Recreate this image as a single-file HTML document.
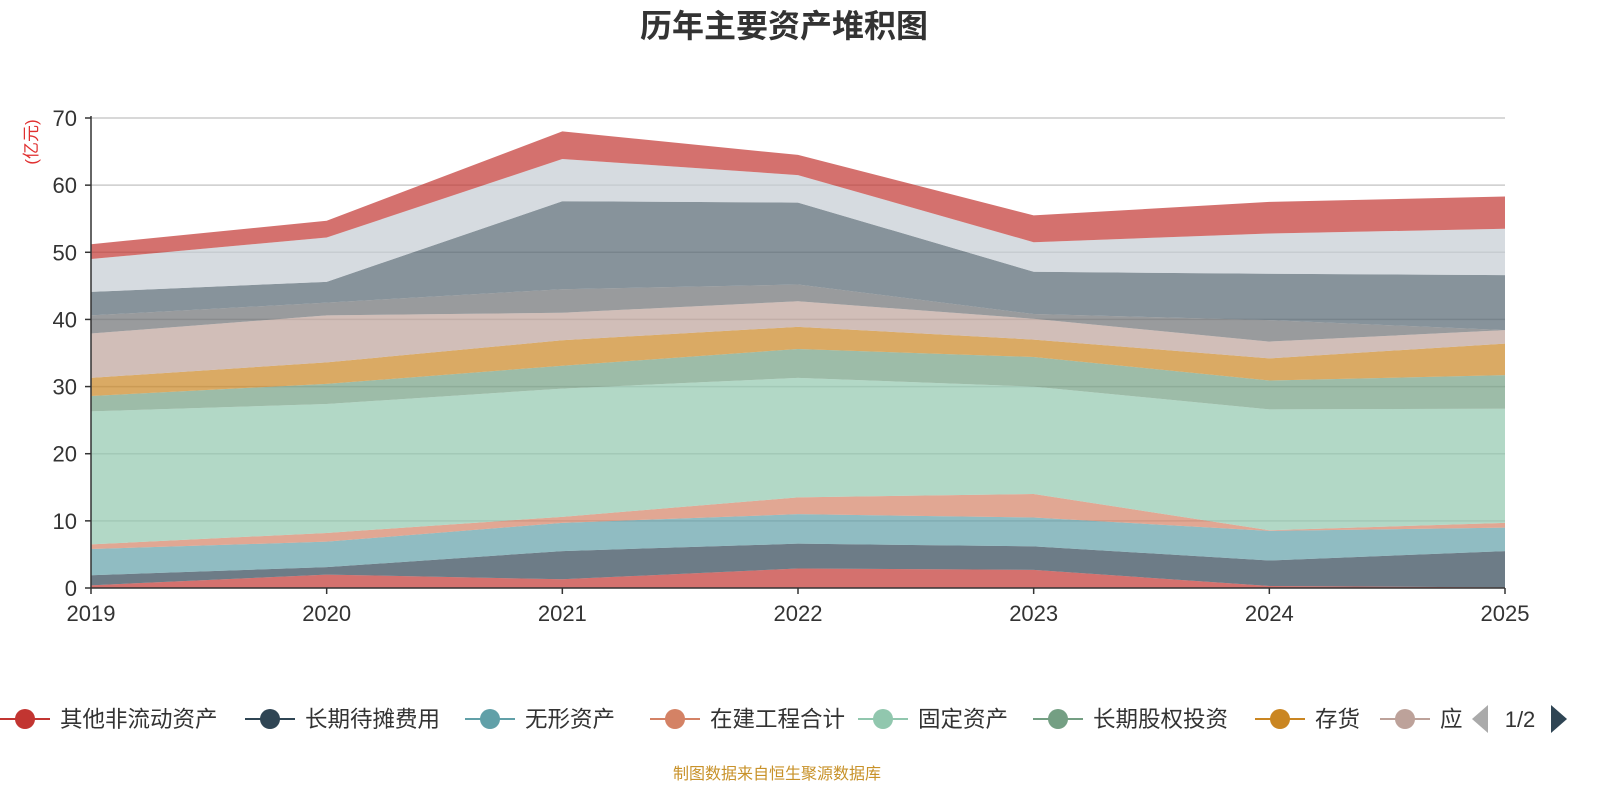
<!DOCTYPE html>
<html><head><meta charset="utf-8">
<style>
body{margin:0;background:#fff;}
svg text{font-family:"Liberation Sans","Noto Sans CJK SC",sans-serif;}
</style></head>
<body>
<svg id="chart" width="1600" height="800" viewBox="0 0 1600 800" xmlns="http://www.w3.org/2000/svg">
<text x="784" y="37" text-anchor="middle" font-size="32" font-weight="bold" fill="#333">历年主要资产堆积图</text>
<text transform="translate(37,142) rotate(-90)" text-anchor="middle" font-size="17" fill="#e03030">(亿元)</text>
<g id="grid"></g>
<g id="areas"></g>
<g id="axes"></g>
<g id="legend"></g>
<text x="777" y="779" text-anchor="middle" font-size="16" fill="#c8922a">制图数据来自恒生聚源数据库</text>
</svg>
<script>
const years = ['2019','2020','2021','2022','2023','2024','2025'];
const yTicks = [0,10,20,30,40,50,60,70];
const seriesNames = ['其他非流动资产','长期待摊费用','无形资产','在建工程合计','固定资产','长期股权投资','存货','应收账款','其他应收款','交易性金融资产','预付款项','货币资金'];
const seriesColors = ['#c23531','#2f4554','#61a0a8','#d48265','#91c7ae','#749f83','#ca8622','#bda29a','#6e7074','#546570','#c4ccd3','#c23531'];
const s1 = [0.4,2.0,1.3,2.9,2.7,0.3,0.1];
const s2 = [1.5,1.1,4.2,3.7,3.5,3.8,5.4];
const s3 = [3.9,3.8,4.2,4.4,4.3,4.4,3.5];
const s4 = [0.7,1.3,0.9,2.5,3.5,0.1,0.7];
const s5 = [19.8,19.2,19.1,17.8,16.0,18.0,17.0];
const s6 = [2.3,3.0,3.4,4.3,4.4,4.3,5.0];
const s7 = [2.7,3.2,3.8,3.3,2.6,3.3,4.7];
const s8 = [6.6,7.0,4.1,3.8,3.1,2.5,2.0];
const s9 = [2.7,1.9,3.5,2.5,0.7,3.2,0.0];
const s10 = [3.5,3.1,13.1,12.2,6.3,6.9,8.2];
const s11 = [4.9,6.6,6.3,4.1,4.4,6.0,6.9];
const s12 = [2.2,2.5,4.1,3.0,4.0,4.7,4.8];
const seriesValues = [s1,s2,s3,s4,s5,s6,s7,s8,s9,s10,s11,s12];

const NS='http://www.w3.org/2000/svg';
const X0=91,X1=1505,Y0=588,Y1=118,YMAX=70;
const xScale=i=>X0+(X1-X0)*i/(years.length-1);
const yScale=v=>Y0-(Y0-Y1)*v/YMAX;
function mk(tag,attrs,parent){const e=document.createElementNS(NS,tag);for(const k in attrs)e.setAttribute(k,attrs[k]);parent.appendChild(e);return e;}

const grid=document.getElementById('grid');
const axes=document.getElementById('axes');
yTicks.forEach(t=>{
  if(t>0){const l=mk('line',{x1:X0,x2:X1,y1:yScale(t),y2:yScale(t),stroke:'#ccc','stroke-width':1.5},grid);
  
  }
  const tk=mk('line',{x1:X0-6,x2:X0,y1:yScale(t),y2:yScale(t),stroke:'#333','stroke-width':1.5},axes);
  
  
  const tx=mk('text',{x:X0-14,y:yScale(t)+8,'text-anchor':'end','font-size':22,fill:'#333'},axes);
  tx.textContent=t;
  
  
});

const areas=document.getElementById('areas');
let base=years.map(()=>0);
seriesValues.forEach((vals,si)=>{
  const top=base.map((b,i)=>b+vals[i]);
  let d='';
  top.forEach((v,i)=>{d+=(i?'L':'M')+xScale(i)+','+yScale(v);});
  for(let i=years.length-1;i>=0;i--)d+='L'+xScale(i)+','+yScale(base[i]);
  d+='Z';
  const p=mk('path',{d:d,fill:seriesColors[si],'fill-opacity':0.7},areas);
  
  
  base=top;
});

const ax=mk('line',{x1:X0,x2:X0,y1:Y1-2,y2:Y0,stroke:'#333','stroke-width':1.5},axes);


const xl=mk('line',{x1:X0,x2:X1,y1:Y0,y2:Y0,stroke:'#333','stroke-width':1.5},axes);


years.forEach((y,i)=>{
  const tk=mk('line',{x1:xScale(i),x2:xScale(i),y1:Y0,y2:Y0+6,stroke:'#333','stroke-width':1.5},axes);
  
  
  const tx=mk('text',{x:xScale(i),y:621,'text-anchor':'middle','font-size':22,fill:'#333'},axes);
  tx.textContent=y;
  
  
});

const legend=document.getElementById('legend');
const legX=[0,245,465,650,858,1033,1255,1380];
legX.forEach((lx,i)=>{
  const g=mk('g',{},legend);
  
  
  mk('line',{x1:lx,x2:lx+50,y1:719,y2:719,stroke:seriesColors[i],'stroke-width':2},g);
  mk('circle',{cx:lx+25,cy:719,r:10,fill:seriesColors[i]},g);
  const t=mk('text',{x:lx+60,y:727,'font-size':22.5,fill:'#333'},g);
  t.textContent=i===7?'应收':seriesNames[i];
});
const cover=mk('rect',{x:1462,y:700,width:138,height:40,fill:'#fff'},legend);


const prev=mk('path',{d:'M1472,719 L1488,705 L1488,733 Z',fill:'#aaa'},legend);


const pg=mk('text',{x:1520,y:727,'text-anchor':'middle','font-size':22,fill:'#333'},legend);
pg.textContent='1/2';


const next=mk('path',{d:'M1551,705 L1567,719 L1551,733 Z',fill:'#2f4554'},legend);


</script>
</body></html>
